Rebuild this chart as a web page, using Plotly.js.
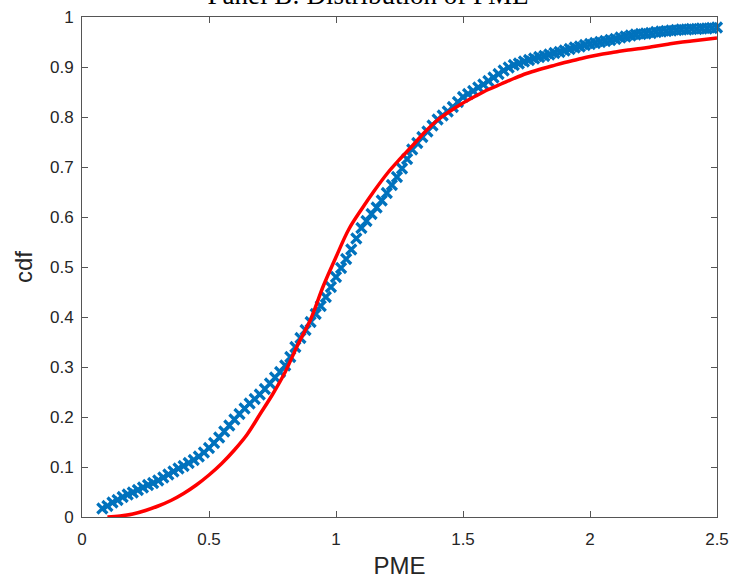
<!DOCTYPE html>
<html>
<head>
<meta charset="utf-8">
<script src="https://cdn.plot.ly/plotly-3.0.1.min.js"></script>
<style>html,body{margin:0;padding:0;background:#fff;}#plot{width:730px;height:582px;}</style>
</head>
<body>
<div id="plot"></div>
<script>
// Empirical cdf (blue x markers), PME grid
var empX = [0.08,0.10,0.12,0.14,0.16,0.18,0.20,0.22,0.24,0.26,0.28,0.30,0.32,0.34,0.36,0.38,0.40,0.42,0.44,0.46,0.48,0.50,
0.52,0.54,0.56,0.58,0.60,0.62,0.64,0.66,0.68,0.70,0.72,0.74,0.76,0.78,0.80,0.82,0.84,0.86,0.88,0.90,0.92,0.94,0.96,0.98,1.00,
1.02,1.04,1.06,1.08,1.10,1.12,1.14,1.16,1.18,1.20,1.22,1.24,1.26,1.28,1.30,1.32,1.34,1.36,1.38,1.40,1.42,1.44,1.46,1.48,1.50,
1.52,1.54,1.56,1.58,1.60,1.62,1.64,1.66,1.68,1.70,1.72,1.74,1.76,1.78,1.80,1.82,1.84,1.86,1.88,1.90,1.92,1.94,1.96,1.98,2.00,
2.02,2.04,2.06,2.08,2.10,2.12,2.14,2.16,2.18,2.20,2.22,2.24,2.26,2.28,2.30,2.32,2.34,2.36,2.38,2.40,2.42,2.44,2.46,2.48,2.50];
var empCdf = [0.017,0.022,0.029,0.034,0.040,0.045,0.049,0.054,0.059,0.064,0.068,0.073,0.079,0.085,0.091,0.097,0.102,0.108,0.114,0.121,0.129,0.138,
0.148,0.159,0.171,0.183,0.195,0.206,0.217,0.227,0.236,0.245,0.256,0.267,0.279,0.290,0.303,0.320,0.340,0.358,0.374,0.390,0.406,0.422,0.440,0.460,0.480,
0.498,0.516,0.535,0.557,0.578,0.592,0.606,0.619,0.633,0.648,0.664,0.680,0.697,0.716,0.735,0.748,0.760,0.771,0.783,0.795,0.803,0.811,0.820,0.830,0.840,
0.846,0.852,0.859,0.865,0.872,0.879,0.886,0.893,0.899,0.904,0.907,0.911,0.914,0.917,0.920,0.922,0.925,0.928,0.930,0.933,0.936,0.939,0.941,0.944,0.946,
0.948,0.950,0.952,0.954,0.956,0.959,0.961,0.963,0.965,0.966,0.967,0.968,0.970,0.971,0.972,0.973,0.974,0.975,0.975,0.976,0.976,0.977,0.977,0.978,0.979];

// Fitted cdf (red line)
var fitX = [0.10,0.15,0.20,0.25,0.30,0.35,0.40,0.45,0.50,0.55,0.60,0.65,0.70,0.75,0.80,0.85,0.90,0.95,1.00,1.05,1.10,1.15,1.20,1.25,1.30,
1.35,1.40,1.45,1.50,1.55,1.60,1.65,1.70,1.75,1.80,1.85,1.90,1.95,2.00,2.05,2.10,2.15,2.20,2.25,2.30,2.35,2.40,2.45,2.50];
var fitCdf = [0.000,0.002,0.006,0.013,0.022,0.033,0.047,0.064,0.084,0.107,0.134,0.165,0.205,0.245,0.290,0.345,0.395,0.462,0.520,0.575,0.615,0.652,0.686,0.715,0.742,
0.770,0.794,0.812,0.828,0.842,0.855,0.866,0.877,0.887,0.895,0.902,0.909,0.915,0.921,0.926,0.930,0.934,0.937,0.941,0.945,0.949,0.952,0.955,0.958];

var xTicks = [0, 0.5, 1, 1.5, 2, 2.5];
var xTickText = ['0', '0.5', '1', '1.5', '2', '2.5'];
var yTicks = [0, 0.1, 0.2, 0.3, 0.4, 0.5, 0.6, 0.7, 0.8, 0.9, 1];
var yTickText = ['0', '0.1', '0.2', '0.3', '0.4', '0.5', '0.6', '0.7', '0.8', '0.9', '1'];

var traces = [
  {x: empX, y: empCdf, type: 'scatter', mode: 'markers', cliponaxis: false,
   marker: {symbol: 'x-thin', size: 10, color: '#0072BD', line: {width: 3.2, color: '#0072BD'}},
   hoverinfo: 'skip'},
  {x: fitX, y: fitCdf, type: 'scatter', mode: 'lines', line: {color: '#FF0000', width: 3.5, shape: 'spline'}, hoverinfo: 'skip'}
];

var axisCommon = {
  showline: true, linecolor: '#555555', linewidth: 1, mirror: 'ticks',
  ticks: 'inside', ticklen: 6, tickcolor: '#555555', tickwidth: 1,
  showgrid: false, zeroline: false,
  tickfont: {family: 'Liberation Sans, Arial, sans-serif', size: 17, color: '#262626'}
};

var layout = {
  width: 730, height: 582,
  margin: {l: 82, r: 13, t: 17, b: 65},
  paper_bgcolor: '#ffffff', plot_bgcolor: '#ffffff',
  showlegend: false,
  title: {text: 'Panel B: Distribution of PME', xref: 'container', x: 0.504, xanchor: 'center',
          yref: 'container', y: 0.993, yanchor: 'bottom',
          font: {family: 'Liberation Serif, Times New Roman, serif', size: 27, color: '#000000'}},
  xaxis: Object.assign({}, axisCommon, {range: [0, 2.5], tickvals: xTicks, ticktext: xTickText,
    ticklabelstandoff: 7,
    title: {text: 'PME', standoff: 8, font: {family: 'Liberation Sans, Arial, sans-serif', size: 24, color: '#262626'}}}),
  yaxis: Object.assign({}, axisCommon, {range: [0, 1], tickvals: yTicks, ticktext: yTickText,
    ticklabelstandoff: 4,
    title: {text: 'cdf', standoff: 10, font: {family: 'Liberation Sans, Arial, sans-serif', size: 24, color: '#262626'}}})
};

Plotly.newPlot('plot', traces, layout, {staticPlot: true, displayModeBar: false});
</script>
</body>
</html>
